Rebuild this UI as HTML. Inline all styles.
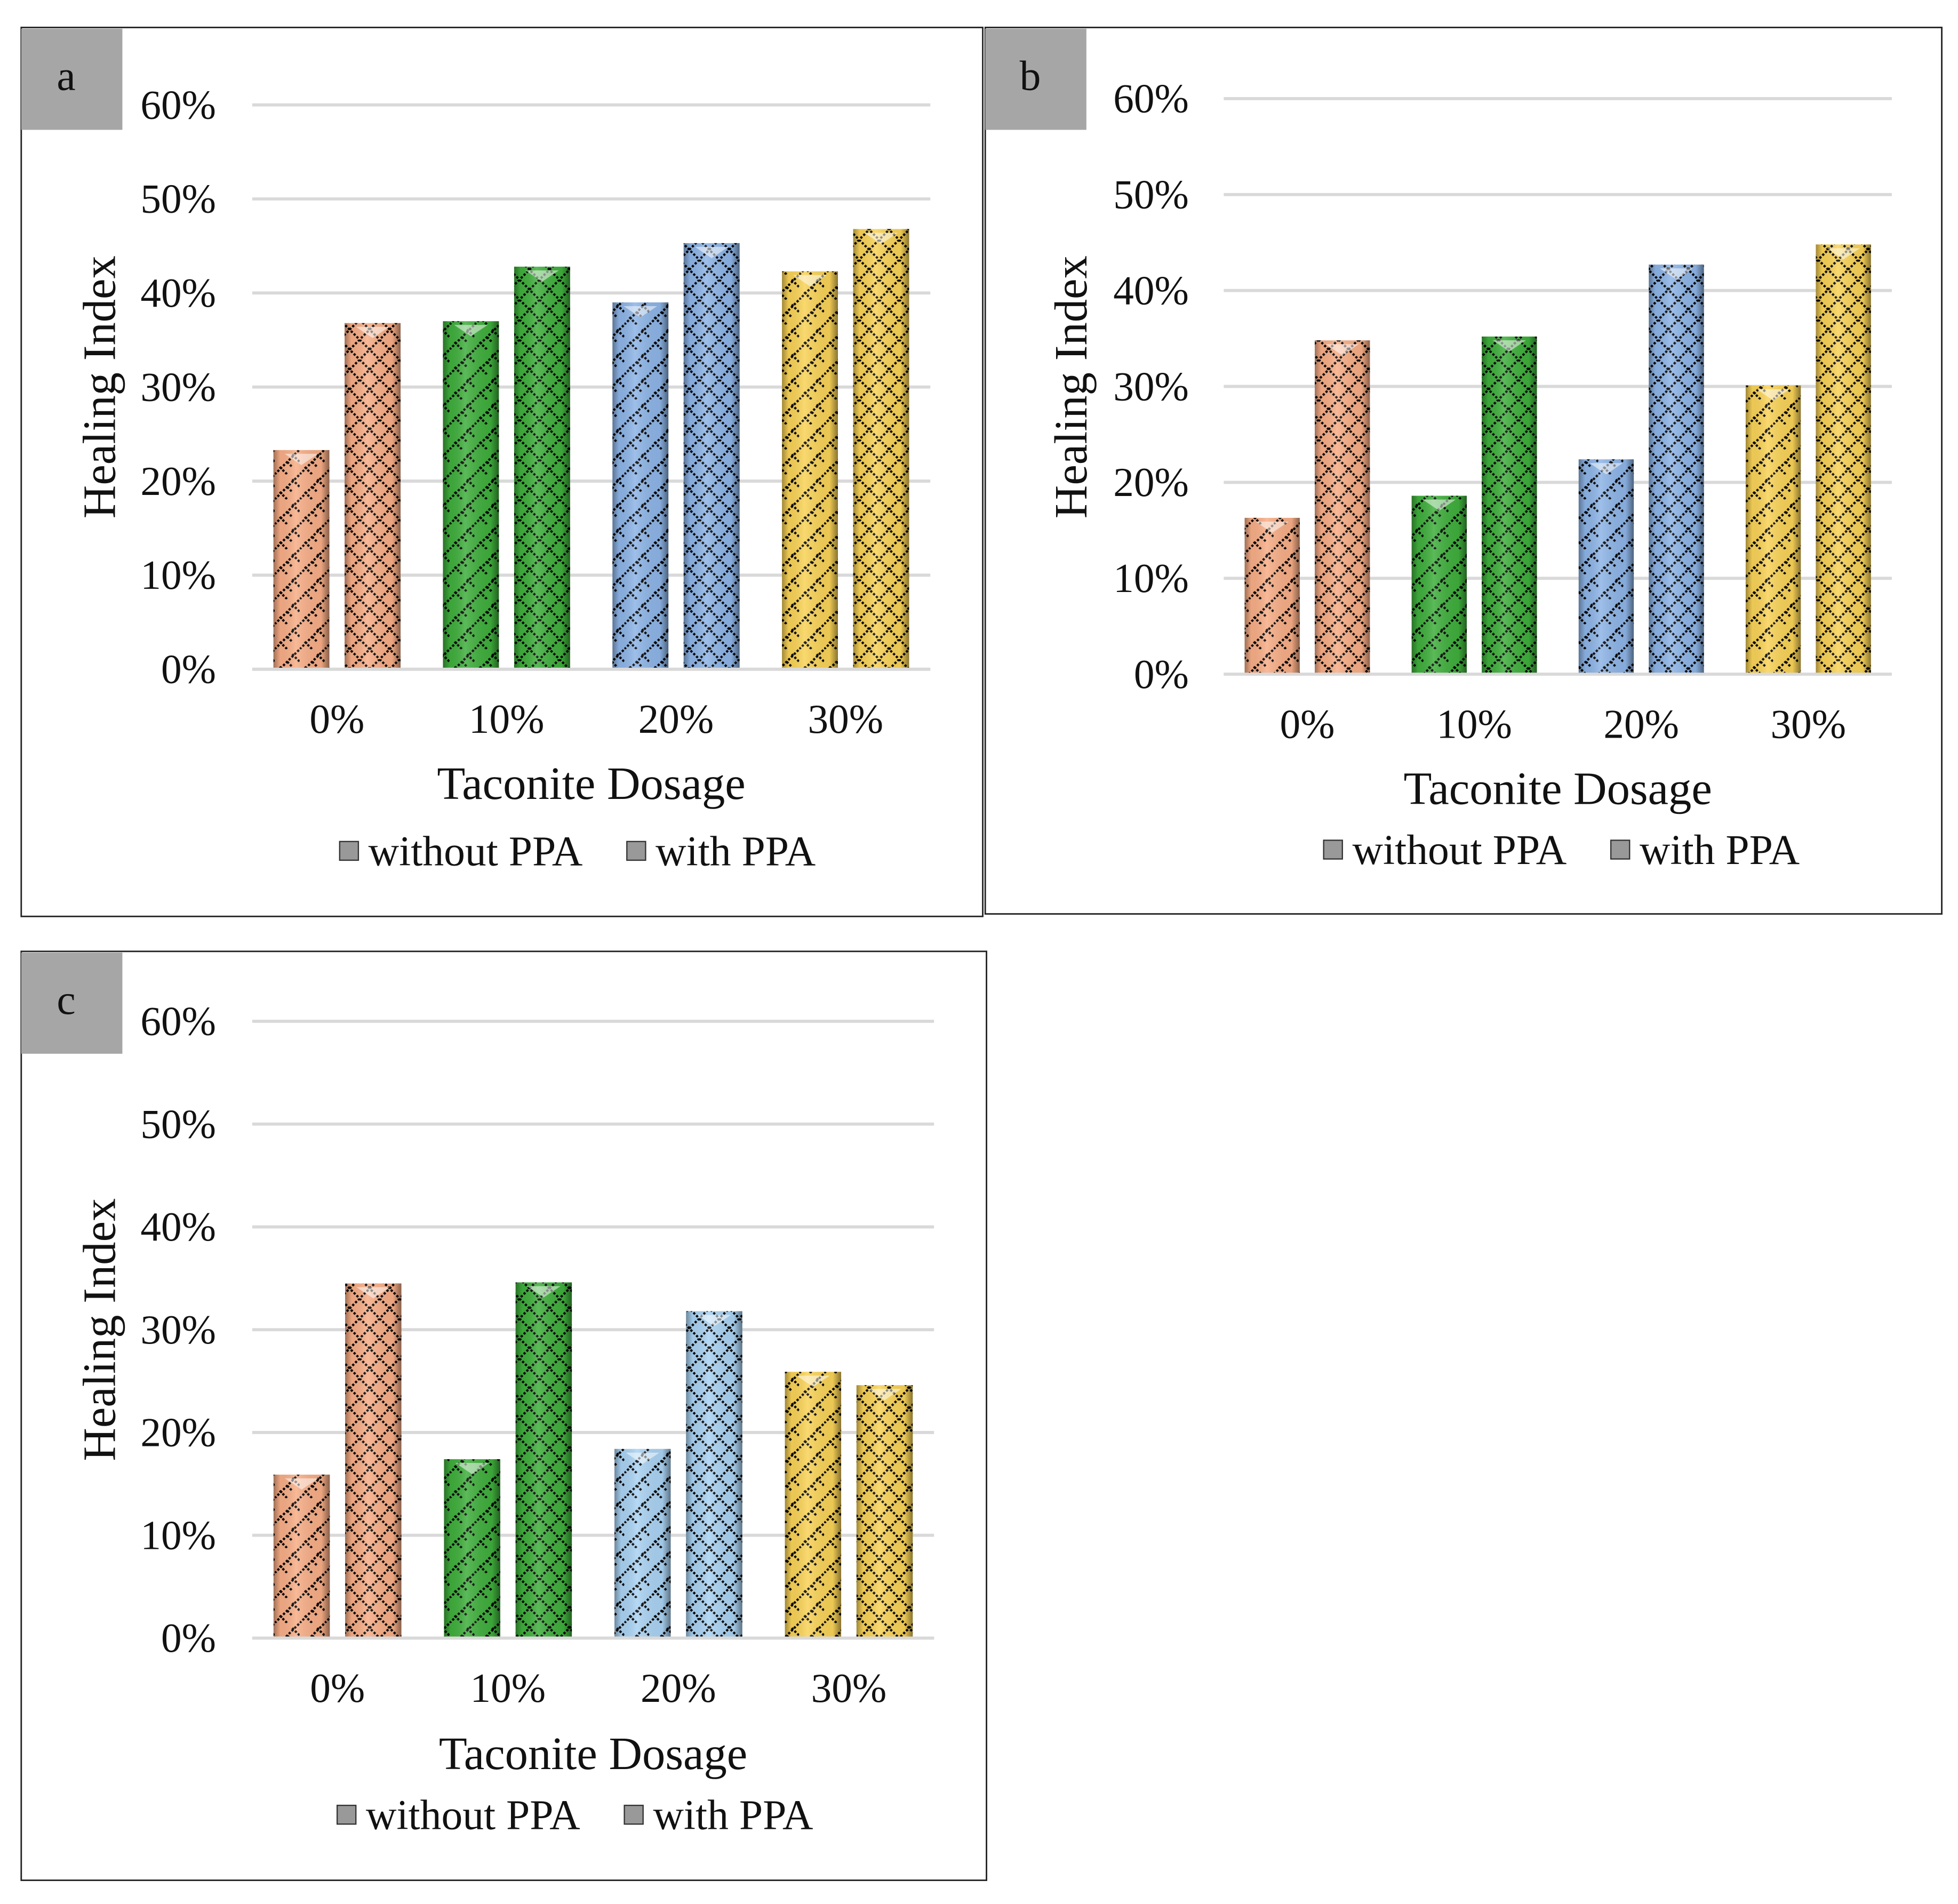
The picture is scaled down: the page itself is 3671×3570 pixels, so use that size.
<!DOCTYPE html>
<html><head><meta charset="utf-8"><style>
html,body{margin:0;padding:0;background:#fff;}
svg{display:block;}
text{font-family:"Liberation Serif",serif;fill:#111;}
</style></head><body>
<svg id="chart" xmlns="http://www.w3.org/2000/svg" width="3671" height="3570" viewBox="0 0 1568 1525" preserveAspectRatio="none">
<defs>
<pattern id="pWith" width="16" height="16" patternUnits="userSpaceOnUse">
<path d="M0,0 L16,16 M16,0 L0,16" stroke="#000" stroke-width="1.8" stroke-dasharray="1.8,1.4"/>
</pattern>
<pattern id="pWithout" width="20" height="20" patternUnits="userSpaceOnUse">
<path d="M0,20 L20,0 M-4,4 L4,-4 M16,24 L24,16 M4,14 L10,20 M10,10 L14,14 M14,4 L20,10" stroke="#000" stroke-width="1.8" stroke-dasharray="1.8,1.4"/>
</pattern>
<linearGradient id="shade" x1="0" x2="1" y1="0" y2="0">
<stop offset="0" stop-color="#000" stop-opacity="0.35"/>
<stop offset="0.12" stop-color="#000" stop-opacity="0.05"/>
<stop offset="0.4" stop-color="#fff" stop-opacity="0.15"/>
<stop offset="0.85" stop-color="#000" stop-opacity="0.05"/>
<stop offset="1" stop-color="#000" stop-opacity="0.45"/>
</linearGradient>
</defs>
<g id="root"></g>
</svg>
<script>
const categories = ["0%","10%","20%","30%"];
const yTicks = [0,10,20,30,40,50,60];
const seriesNames = ["without PPA","with PPA"];
const aWithout = [23.3,37.0,39.0,42.3];
const aWith = [36.8,42.8,45.3,46.8];
const bWithout = [16.3,18.6,22.4,30.1];
const bWith = [34.8,35.2,42.7,44.8];
const cWithout = [15.9,17.4,18.4,25.9];
const cWith = [34.5,34.6,31.8,24.6];
const colorsAB = ["#f7ad86","#3fae3c","#8db4e6","#f8d257"];
const colorsC = ["#f7ad86","#3fae3c","#a9d2f2","#f8d257"];

const panels = [
 {id:"a",box:[17,22,770,712],x0:202,x1:745,y0:536,y60:84,catY:576,titleY:640,legY:693,legX:[272,502],ytX:173,yTitleX:92,yTitleY:310,w:aWithout,p:aWith,colors:colorsAB},
 {id:"b",box:[789,22,766,710],x0:980,x1:1515,y0:540,y60:79,catY:580,titleY:644,legY:692,legX:[1060,1290],ytX:952,yTitleX:870,yTitleY:310,w:bWithout,p:bWith,colors:colorsAB},
 {id:"c",box:[17,762,773,744],x0:202,x1:748,y0:1312,y60:818,catY:1352,titleY:1417,legY:1465,legX:[270,500],ytX:173,yTitleX:92,yTitleY:1065,w:cWithout,p:cWith,colors:colorsC}
];
const NS="http://www.w3.org/2000/svg";
const root=document.getElementById('root');
function mk(tag,attrs,parent,txt){const e=document.createElementNS(NS,tag);for(const k in attrs)e.setAttribute(k,attrs[k]);if(txt!==undefined)e.textContent=txt;(parent||root).appendChild(e);return e;}

panels.forEach(P=>{
 const g=mk('g',{});
 
 
 const fr=mk('rect',{x:P.box[0],y:P.box[1],width:P.box[2],height:P.box[3],fill:'#fff',stroke:'#222','stroke-width':1.2},g);
 
 
 const lb=mk('rect',{x:P.box[0],y:P.box[1]+1,width:81,height:81,fill:'#a6a6a6'},g);
 
 
 const lt=mk('text',{x:P.box[0]+36,y:P.box[1]+50,'font-size':34,'text-anchor':'middle'},g,P.id);
 
 
 const yS=v=>P.y0-(v/60)*(P.y0-P.y60);
 yTicks.forEach(t=>{
  const gl=mk('line',{x1:P.x0,x2:P.x1,y1:yS(t),y2:yS(t),stroke:'#d9d9d9','stroke-width':2.5},g);
  
  
  const tl=mk('text',{x:P.ytX,y:yS(t)+11,'font-size':33,'text-anchor':'end'},g,t+'%');
  
  
 });
 const gw=(P.x1-P.x0)/4, bw=gw*0.33, gap=gw*0.09;
 categories.forEach((c,i)=>{
  const cx=P.x0+gw*(i+0.5);
  [P.w[i],P.p[i]].forEach((v,s)=>{
   const x=s===0?cx-gap/2-bw:cx+gap/2;
   const y=yS(v),h=P.y0-y;
   const b=mk('rect',{x:x,y:y,width:bw,height:h,fill:P.colors[i]},g);
   
   
   mk('rect',{x:x,y:y,width:bw,height:h,fill:s?'url(#pWith)':'url(#pWithout)'},g);
   mk('rect',{x:x,y:y,width:bw,height:h,fill:'url(#shade)'},g);
   mk('path',{d:`M${x+bw*0.2},${y+3} L${x+bw*0.5},${y+12} L${x+bw*0.8},${y+3}Z`,fill:'#fff','fill-opacity':0.5},g);
  });
  const cl=mk('text',{x:cx,y:P.catY+11,'font-size':33,'text-anchor':'middle'},g,c);
  
  
 });
 const ax=mk('line',{x1:P.x0,x2:P.x1,y1:P.y0,y2:P.y0,stroke:'#d9d9d9','stroke-width':2.5},g);
 
 
 const xt=mk('text',{x:(P.x0+P.x1)/2,y:P.titleY,'font-size':37,'text-anchor':'middle'},g,'Taconite Dosage');
 
 
 const yt=mk('text',{x:0,y:0,'font-size':37,'text-anchor':'middle',transform:`translate(${P.yTitleX},${P.yTitleY}) rotate(-90)`},g,'Healing Index');
 
 
 seriesNames.forEach((n,s)=>{
  const lx=P.legX[s];
  const sw=mk('rect',{x:lx,y:P.legY-19,width:15,height:15,fill:'#999',stroke:'#333','stroke-width':1},g);
  
  
  const lt2=mk('text',{x:lx+23,y:P.legY,'font-size':34},g,n);
  
  
 });
});
</script>
</body></html>
